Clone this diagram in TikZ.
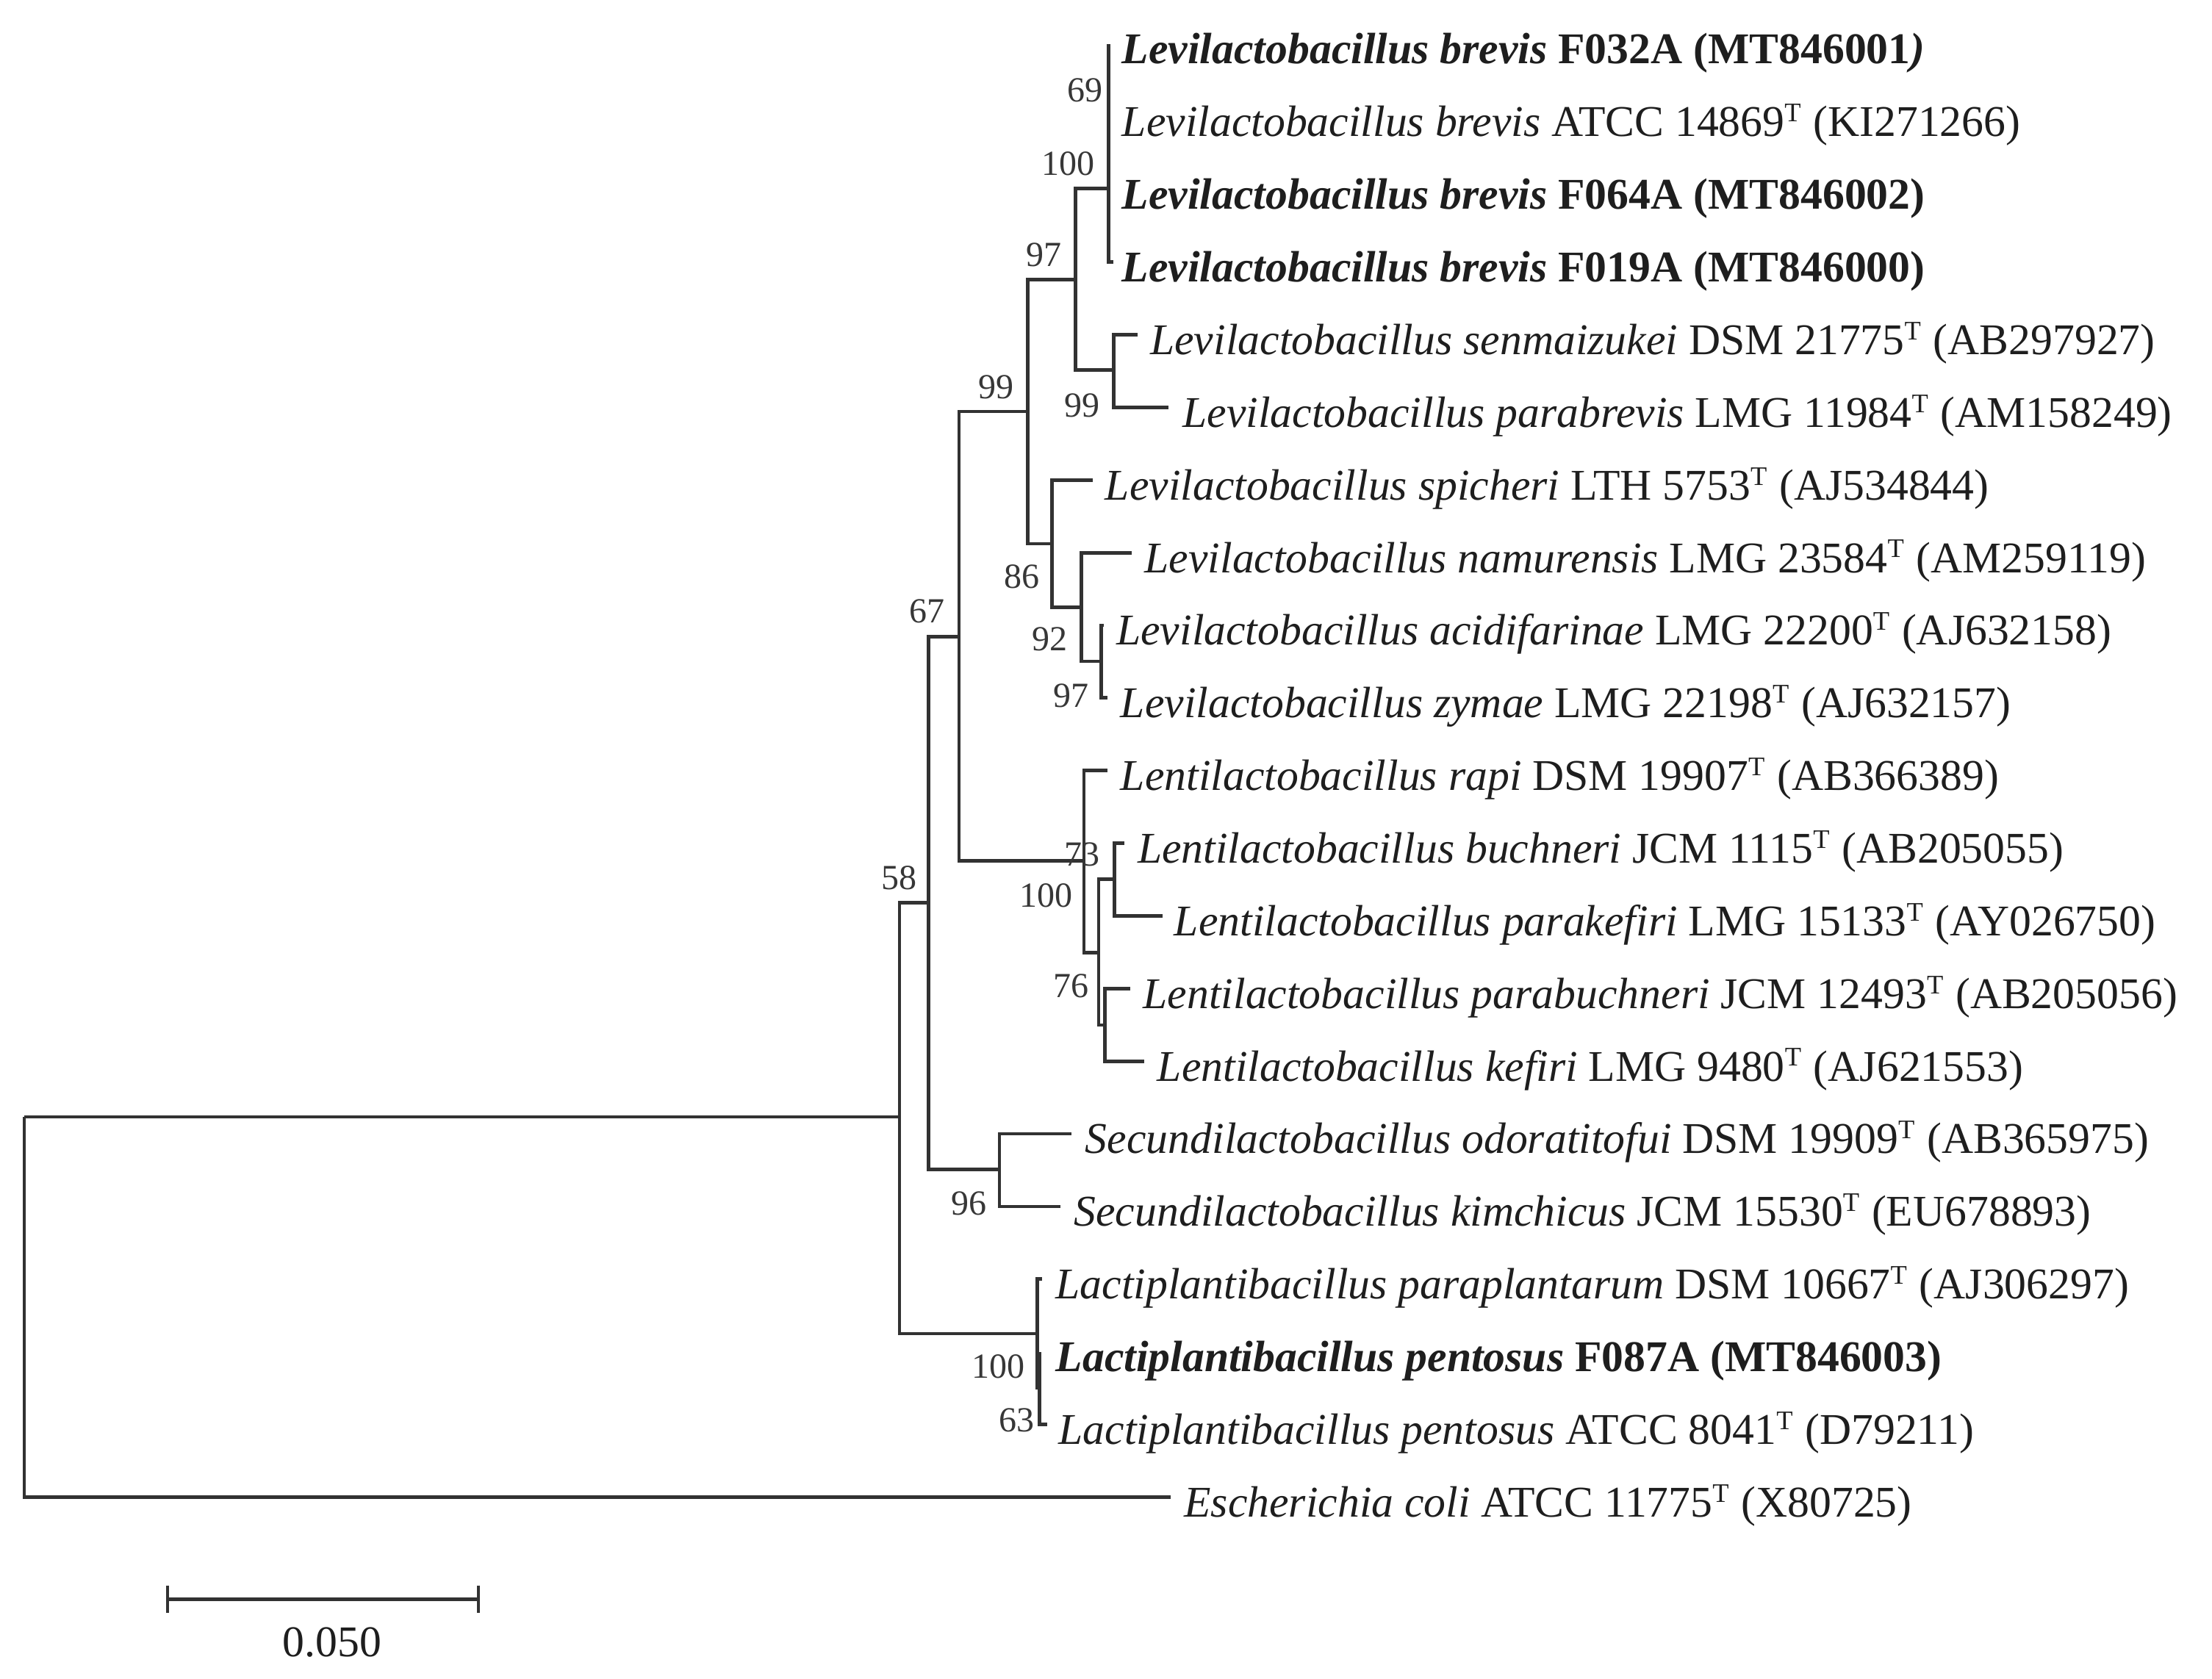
\documentclass[tikz,border=0pt]{standalone}
\usepackage{fontspec}
\setmainfont{Liberation Serif}
\definecolor{brc}{RGB}{50,50,50}
\definecolor{txc}{RGB}{30,30,30}
\definecolor{bsc}{RGB}{55,55,55}
\newcommand\tsup{\textsuperscript{\fontsize{9.5}{10}\selectfont T}}
\begin{document}
\begin{tikzpicture}[x=0.5pt,y=-0.5pt,
  br/.style={line width=1.25pt, draw=brc},
  lab/.style={anchor=base west, inner sep=0pt, font=\fontsize{15.55}{18}\selectfont, text=txc},
  bs/.style={anchor=east, inner sep=0pt, font=\fontsize{12.5}{15}\selectfont, text=bsc}]
\useasboundingbox (0,0) rectangle (1568,1190.3);

% internal nodes
\coordinate (root) at (17.2,791.8);
\coordinate (nX)   at (637.6,791.8);
\coordinate (n58)  at (658.1,639.9);
\coordinate (n67)  at (679.8,451.5);
\coordinate (n99)  at (728.4,291.7);
\coordinate (n97)  at (762.3,198);
\coordinate (nbr)  at (785.8,133.7);
\coordinate (n99b) at (789.6,262.2);
\coordinate (n86)  at (745.8,385.5);
\coordinate (n92)  at (766.6,430.6);
\coordinate (n97b) at (780.5,468.8);
\coordinate (nle)  at (768.4,610.4);
\coordinate (nB)   at (778.8,675.5);
\coordinate (nC)   at (790.1,623.4);
\coordinate (nD)   at (783.1,726.7);
\coordinate (nse)  at (708.5,829.2);
\coordinate (nla)  at (735.4,945.5);
\coordinate (n63)  at (737.0,984.0);

% leaf tips
\coordinate (t0)  at (785.8,31.3);
\coordinate (t1)  at (785.8,82.8);
\coordinate (t2)  at (785.8,134.3);
\coordinate (t3)  at (789.0,185.8);
\coordinate (t4)  at (806.6,237.3);
\coordinate (t5)  at (828.2,288.8);
\coordinate (t6)  at (774.5,340.3);
\coordinate (t7)  at (802.2,391.8);
\coordinate (t8)  at (782.5,443.3);
\coordinate (t9)  at (784.9,494.8);
\coordinate (t10) at (784.9,546.3);
\coordinate (t11) at (797.0,597.8);
\coordinate (t12) at (824.0,649.3);
\coordinate (t13) at (801.4,700.8);
\coordinate (t14) at (811.0,752.3);
\coordinate (t15) at (759.7,803.8);
\coordinate (t16) at (751.9,855.3);
\coordinate (t17) at (738.8,906.8);
\coordinate (t18) at (737.0,958.3);
\coordinate (t19) at (742.3,1009.8);
\coordinate (t20) at (830.0,1061.3);

% branches
\draw[br] (root) |- (nX);
\draw[br] (root) |- (t20);
\draw[br] (nX) |- (n58);
\draw[br] (nX) |- (nla);
\draw[br] (n58) |- (n67);
\draw[br] (n58) |- (nse);
\draw[br] (n67) |- (n99);
\draw[br] (n67) |- (nle);
\draw[br] (n99) |- (n97);
\draw[br] (n99) |- (n86);
\draw[br] (n97) |- (nbr);
\draw[br] (n97) |- (n99b);
\draw[br] (nbr) |- (t0);
\draw[br] (nbr) |- (t3);
\draw[br] (n99b) |- (t4);
\draw[br] (n99b) |- (t5);
\draw[br] (n86) |- (t6);
\draw[br] (n86) |- (n92);
\draw[br] (n92) |- (t7);
\draw[br] (n92) |- (n97b);
\draw[br] (n97b) |- (t8);
\draw[br] (n97b) |- (t9);
\draw[br] (nle) |- (t10);
\draw[br] (nle) |- (nB);
\draw[br] (nB) |- (nC);
\draw[br] (nB) |- (nD);
\draw[br] (nC) |- (t11);
\draw[br] (nC) |- (t12);
\draw[br] (nD) |- (t13);
\draw[br] (nD) |- (t14);
\draw[br] (nse) |- (t15);
\draw[br] (nse) |- (t16);
\draw[br] (nla) |- (t17);
\draw[br] (nla) |- (n63);
\draw[br] (n63) |- (t18);
\draw[br] (n63) |- (t19);

% leaf labels
\node[lab] (l0)  at (795,45.3)   {\textbf{\textit{Levilactobacillus brevis} F032A (MT846001\textit{)}}};
\node[lab] (l1)  at (795,96.8)   {\textit{Levilactobacillus brevis} ATCC 14869\tsup{} (KI271266)};
\node[lab] (l2)  at (795,148.3)  {\textbf{\textit{Levilactobacillus brevis} F064A (MT846002)}};
\node[lab] (l3)  at (795,199.8)  {\textbf{\textit{Levilactobacillus brevis} F019A (MT846000)}};
\node[lab] (l4)  at (815,251.3)  {\textit{Levilactobacillus senmaizukei} DSM 21775\tsup{} (AB297927)};
\node[lab] (l5)  at (838,302.8)  {\textit{Levilactobacillus parabrevis} LMG 11984\tsup{} (AM158249)};
\node[lab] (l6)  at (783,354.3)  {\textit{Levilactobacillus spicheri} LTH 5753\tsup{} (AJ534844)};
\node[lab] (l7)  at (811,405.8)  {\textit{Levilactobacillus namurensis} LMG 23584\tsup{} (AM259119)};
\node[lab] (l8)  at (791,457.3)  {\textit{Levilactobacillus acidifarinae} LMG 22200\tsup{} (AJ632158)};
\node[lab] (l9)  at (794,508.8)  {\textit{Levilactobacillus zymae} LMG 22198\tsup{} (AJ632157)};
\node[lab] (l10) at (794,560.3)  {\textit{Lentilactobacillus rapi} DSM 19907\tsup{} (AB366389)};
\node[lab] (l11) at (806,611.8)  {\textit{Lentilactobacillus buchneri} JCM 1115\tsup{} (AB205055)};
\node[lab] (l12) at (832,663.3)  {\textit{Lentilactobacillus parakefiri} LMG 15133\tsup{} (AY026750)};
\node[lab] (l13) at (810,714.8)  {\textit{Lentilactobacillus parabuchneri} JCM 12493\tsup{} (AB205056)};
\node[lab] (l14) at (820,766.3)  {\textit{Lentilactobacillus kefiri} LMG 9480\tsup{} (AJ621553)};
\node[lab] (l15) at (769,817.8)  {\textit{Secundilactobacillus odoratitofui} DSM 19909\tsup{} (AB365975)};
\node[lab] (l16) at (761,869.3)  {\textit{Secundilactobacillus kimchicus} JCM 15530\tsup{} (EU678893)};
\node[lab] (l17) at (748,920.8)  {\textit{Lactiplantibacillus paraplantarum} DSM 10667\tsup{} (AJ306297)};
\node[lab] (l18) at (748,972.3)  {\textbf{\textit{Lactiplantibacillus pentosus} F087A (MT846003)}};
\node[lab] (l19) at (750,1023.8) {\textit{Lactiplantibacillus pentosus} ATCC 8041\tsup{} (D79211)};
\node[lab] (l20) at (839,1075.3) {\textit{Escherichia coli} ATCC 11775\tsup{} (X80725)};

% bootstrap values
\node[bs] (b69)  at (782.3,64.2)  {69};
\node[bs] (b100a) at (776.2,116.3) {100};
\node[bs] (b97a) at (753,180.6)   {97};
\node[bs] (b99a) at (718.9,274.4) {99};
\node[bs] (b99b) at (780,287.4)   {99};
\node[bs] (b86)  at (737,408.9)   {86};
\node[bs] (b92)  at (757,453.2)   {92};
\node[bs] (b97b) at (771.9,493.2) {97};
\node[bs] (b67)  at (670.3,433.3) {67};
\node[bs] (b73)  at (779.7,606)   {73};
\node[bs] (b100b) at (760.6,634.7) {100};
\node[bs] (b76)  at (771.9,698.9) {76};
\node[bs] (b58)  at (650.3,622.5) {58};
\node[bs] (b96)  at (699.8,853.4) {96};
\node[bs] (b100c) at (726.7,969)  {100};
\node[bs] (b63)  at (733.7,1007.1) {63};

% scale bar
\coordinate (sb1) at (118.8,1133.6);
\coordinate (sb2) at (339.1,1133.6);
\draw[br] (sb1) -- (sb2);
\draw[br] ([yshift=4.8pt]sb1) -- ([yshift=-4.8pt]sb1);
\draw[br] ([yshift=4.8pt]sb2) -- ([yshift=-4.8pt]sb2);
\node[inner sep=0pt, font=\fontsize{15.55}{18}\selectfont, text=txc] (sbl) at (235.4,1164.4) {0.050};
\end{tikzpicture}
\end{document}
